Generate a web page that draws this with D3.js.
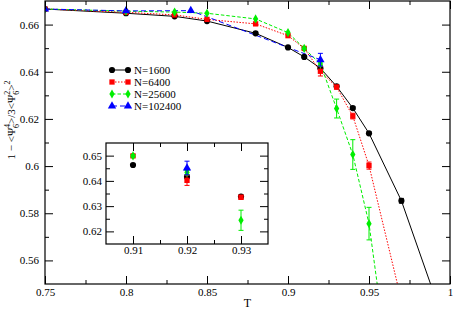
<!DOCTYPE html>
<html>
<head>
<meta charset="utf-8">
<script src="https://cdn.jsdelivr.net/npm/d3@7"></script>
<style>
  body { margin: 0; background: #fff; }
  text { font-family: serif; }
</style>
</head>
<body>
<div id="chart"></div>
<script>
var width = 453,
  height = 309;

// data
var names = ['N=1600', 'N=6400', 'N=25600', 'N=102400'];
var colors = ['#000000', '#ff0000', '#00ee00', '#0000ff'];

var t1600 = [0.75, 0.8, 0.83, 0.85, 0.88, 0.9, 0.91, 0.92, 0.93, 0.94, 0.95, 0.97, 0.99];
var v1600 = [0.6666, 0.6648, 0.6635, 0.6615, 0.6563, 0.6503, 0.6463, 0.6415, 0.6338, 0.6246, 0.6139, 0.5853, 0.5461];
var e1600 = [0, 0, 0, 0, 0, 0, 0.0003, 0.0005, 0.0005, 0.0006, 0.0006, 0.001, 0.001];

var t6400 = [0.75, 0.8, 0.83, 0.85, 0.88, 0.9, 0.91, 0.92, 0.93, 0.94, 0.95, 0.97];
var v6400 = [0.6666, 0.6652, 0.6641, 0.6622, 0.6603, 0.6553, 0.6499, 0.6402, 0.6335, 0.6212, 0.6002, 0.543];
var e6400 = [0, 0, 0, 0, 0, 0, 0.0004, 0.002, 0.0008, 0.0012, 0.0015, 0.002];

var t25600 = [0.75, 0.8, 0.83, 0.85, 0.88, 0.9, 0.91, 0.92, 0.93, 0.94, 0.95, 0.96];
var v25600 = [0.6666, 0.6657, 0.6653, 0.6648, 0.6624, 0.6566, 0.6499, 0.6433, 0.6244, 0.6049, 0.5756, 0.525];
var e25600 = [0, 0, 0, 0, 0, 0, 0.0005, 0.0008, 0.004, 0.0063, 0.0069, 0.007];

var t102400 = [0.75, 0.8, 0.84, 0.92];
var v102400 = [0.6666, 0.6658, 0.6659, 0.6451];
var e102400 = [0, 0, 0, 0.0027];

var xTicks = [0.75, 0.8, 0.85, 0.9, 0.95, 1];
var xTickLabels = ['0.75', '0.8', '0.85', '0.9', '0.95', '1'];
var yTicks = [0.56, 0.58, 0.6, 0.62, 0.64, 0.66];
var insetXTicks = [0.91, 0.92, 0.93];
var insetYTicks = [0.62, 0.63, 0.64, 0.65];

var series = [
  {t: t1600, v: v1600, e: e1600, symbol: d3.symbolCircle, size: 30, dash: null},
  {t: t6400, v: v6400, e: e6400, symbol: d3.symbolSquare, size: 28, dash: '1.5,1.5'},
  {t: t25600, v: v25600, e: e25600, symbol: d3.symbolDiamond, size: 24, dash: '3.5,2'},
  {t: t102400, v: v102400, e: e102400, symbol: d3.symbolTriangle, size: 30, dash: '5,3'}
].map(function(s, i) {
  s.name = names[i];
  s.color = colors[i];
  s.points = s.t.map(function(t, j) { return {t: t, v: s.v[j], e: s.e[j]}; });
  return s;
});

var svg = d3.select('#chart')
  .append('svg')
  .attr('width', width)
  .attr('height', height);

// main frame
var x = d3.scaleLinear().domain([0.75, 1]).range([45, 450]);
var y = d3.scaleLinear().domain([0.55, 0.67]).range([284, 1]);

svg.append('clipPath').attr('id', 'clipMain')
  .append('rect').attr('x', 45).attr('y', 1).attr('width', 405).attr('height', 283);

function drawAxes(g, xs, ys, xt, yt, xminor, yminor, fmtX, padX, padY) {
  var x0 = xs.range()[0], x1 = xs.range()[1];
  var y0 = ys.range()[0], y1 = ys.range()[1];
  // minor ticks
  [[d3.axisBottom, y0], [d3.axisTop, y1]].forEach(function(a) {
    g.append('g').attr('transform', 'translate(0,' + a[1] + ')')
      .call(a[0](xs).tickValues(xminor).tickSize(-4).tickFormat(''))
      .call(function(s) { s.select('.domain').remove(); });
  });
  [[d3.axisLeft, x0], [d3.axisRight, x1]].forEach(function(a) {
    g.append('g').attr('transform', 'translate(' + a[1] + ',0)')
      .call(a[0](ys).tickValues(yminor).tickSize(-4).tickFormat(''))
      .call(function(s) { s.select('.domain').remove(); });
  });
  // major ticks
  g.append('g').attr('transform', 'translate(0,' + y0 + ')')
    .call(d3.axisBottom(xs).tickValues(xt).tickSize(-8).tickPadding(padX).tickFormat(fmtX))
    .call(function(s) { s.select('.domain').remove(); });
  g.append('g').attr('transform', 'translate(0,' + y1 + ')')
    .call(d3.axisTop(xs).tickValues(xt).tickSize(-8).tickFormat(''))
    .call(function(s) { s.select('.domain').remove(); });
  g.append('g').attr('transform', 'translate(' + x0 + ',0)')
    .call(d3.axisLeft(ys).tickValues(yt).tickSize(-8).tickPadding(padY).tickFormat(d3.format('')))
    .call(function(s) { s.select('.domain').remove(); });
  g.append('g').attr('transform', 'translate(' + x1 + ',0)')
    .call(d3.axisRight(ys).tickValues(yt).tickSize(-8).tickFormat(''))
    .call(function(s) { s.select('.domain').remove(); });
  g.selectAll('g').attr('font-family', 'serif').attr('font-size', 11);
  g.selectAll('.tick line').attr('stroke', '#000').attr('stroke-width', 1);
  g.selectAll('.tick text').attr('fill', '#000');
  g.append('rect')
    .attr('x', x0).attr('y', y1)
    .attr('width', x1 - x0).attr('height', y0 - y1)
    .attr('fill', 'none')
    .attr('stroke', '#000')
    .attr('stroke-width', 1.2);
}

function drawSeries(g, xs, ys, withLines, clipId) {
  var layer = g.append('g');
  if (clipId) layer.attr('clip-path', 'url(#' + clipId + ')');
  if (withLines) {
    series.forEach(function(s) {
      layer.append('path')
        .datum(s.points)
        .attr('fill', 'none')
        .attr('stroke', s.color)
        .attr('stroke-width', 1)
        .attr('stroke-dasharray', s.dash)
        .attr('d', d3.line().x(function(d) { return xs(d.t); }).y(function(d) { return ys(d.v); }));
    });
  }
  var xd = xs.domain();
  series.forEach(function(s) {
    var pts = s.points.filter(function(d) { return d.t >= xd[0] - 1e-9 && d.t <= xd[1] + 1e-9; });
    var eb = layer.append('g').attr('stroke', s.color).attr('stroke-width', 1);
    pts.filter(function(d) { return d.e > 0; }).forEach(function(d) {
      var cx = xs(d.t);
      var lo = ys(d.v - d.e), hi = ys(d.v + d.e);
      eb.append('line').attr('x1', cx).attr('x2', cx).attr('y1', lo).attr('y2', hi);
      eb.append('line').attr('x1', cx - 2.5).attr('x2', cx + 2.5).attr('y1', lo).attr('y2', lo);
      eb.append('line').attr('x1', cx - 2.5).attr('x2', cx + 2.5).attr('y1', hi).attr('y2', hi);
    });
    layer.append('g').selectAll('path')
      .data(pts)
      .join('path')
      .attr('d', d3.symbol().type(s.symbol).size(s.size))
      .attr('fill', s.color)
      .attr('transform', function(d) { return 'translate(' + xs(d.t) + ',' + ys(d.v) + ')'; });
  });
}

var main = svg.append('g');
drawSeries(main, x, y, true, 'clipMain');
drawAxes(main, x, y, xTicks, yTicks,
  [0.775, 0.825, 0.875, 0.925, 0.975], [0.57, 0.59, 0.61, 0.63, 0.65],
  function(d, i) { return xTickLabels[i]; }, 4, 6);

// axis titles
svg.append('text')
  .attr('x', 247.5)
  .attr('y', 307)
  .attr('text-anchor', 'middle')
  .style('font-size', '12px')
  .text('T');

var ylab = svg.append('text')
  .attr('transform', 'translate(15,120) rotate(-90)')
  .attr('text-anchor', 'middle')
  .style('font-size', '11px');
ylab.append('tspan').text('1 \u2212 <\u03A8');
ylab.append('tspan').attr('dy', -5).style('font-size', '8px').text('4');
ylab.append('tspan').attr('dx', -4).attr('dy', 9).style('font-size', '8px').text('6');
ylab.append('tspan').attr('dy', -4).text('>/3<\u03A8');
ylab.append('tspan').attr('dy', -5).style('font-size', '8px').text('2');
ylab.append('tspan').attr('dx', -4).attr('dy', 9).style('font-size', '8px').text('6');
ylab.append('tspan').attr('dy', -4).text('>');
ylab.append('tspan').attr('dy', -5).style('font-size', '8px').text('2');

// legend
var legend = svg.append('g');
series.forEach(function(s, i) {
  var ly = 70 + i * 12;
  legend.append('line')
    .attr('x1', 112).attr('x2', 128).attr('y1', ly).attr('y2', ly)
    .attr('stroke', s.color).attr('stroke-width', 1)
    .attr('stroke-dasharray', s.dash);
  [112, 128].forEach(function(lx) {
    legend.append('path')
      .attr('d', d3.symbol().type(s.symbol).size(s.size))
      .attr('fill', s.color)
      .attr('transform', 'translate(' + lx + ',' + ly + ')');
  });
  legend.append('text')
    .attr('x', 134).attr('y', ly)
    .attr('dy', '0.35em')
    .style('font-size', '11px')
    .text(s.name);
});

// inset
var ix = d3.scaleLinear().domain([0.905, 0.935]).range([106, 268]);
var iy = d3.scaleLinear().domain([0.615, 0.655]).range([244, 143]);
var inset = svg.append('g');
inset.append('rect').attr('x', 106).attr('y', 143).attr('width', 162).attr('height', 101).attr('fill', '#fff');
svg.append('clipPath').attr('id', 'clipInset')
  .append('rect').attr('x', 106).attr('y', 143).attr('width', 162).attr('height', 101);
drawSeries(inset, ix, iy, false, 'clipInset');
drawAxes(inset, ix, iy, insetXTicks, insetYTicks,
  [0.915, 0.925], [0.625, 0.635, 0.645],
  d3.format(''), 2, 4);
</script>
</body>
</html>
